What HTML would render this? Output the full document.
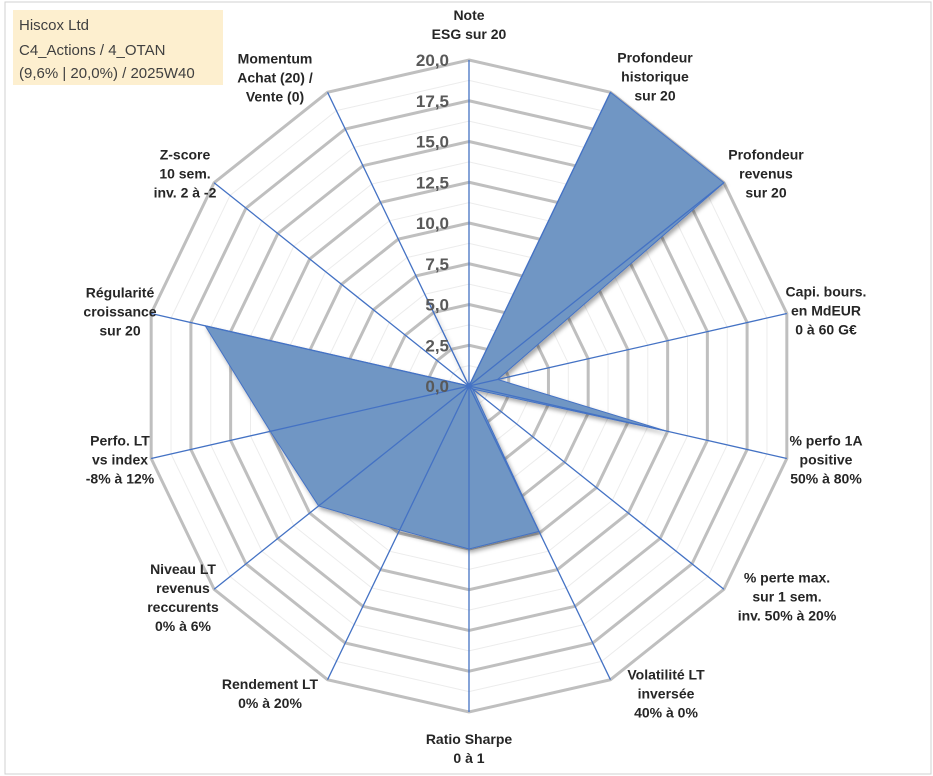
<!DOCTYPE html>
<html><head><meta charset="utf-8"><style>
body{margin:0;background:#fff;}
svg{display:block;font-family:"Liberation Sans",sans-serif;}
.cat{font-weight:bold;font-size:14px;fill:#262626;text-anchor:middle;}
.tick{font-weight:bold;font-size:17px;fill:#595959;text-anchor:end;}
</style></head><body>
<svg id="chart" width="933" height="776">
<rect x="5" y="2" width="926" height="772" fill="#fff" stroke="#d0d0d0"/>
<defs><filter id="sh" x="-10%" y="-10%" width="120%" height="120%"><feDropShadow dx="2" dy="3" stdDeviation="2" flood-color="#000" flood-opacity="0.35"/></filter></defs>
<g id="grid"></g>
<g id="series"></g>
<g id="axes"></g>
<g id="ticks"></g>
<g id="cats"></g>
<g>
<rect x="13" y="10" width="210" height="75" fill="#fdefcf"/>
<text x="19" y="30" font-size="15" fill="#404040">Hiscox Ltd</text>
<text x="19" y="55" font-size="15" fill="#404040">C4_Actions / 4_OTAN</text>
<text x="19" y="78" font-size="15" fill="#404040">(9,6% | 20,0%) / 2025W40</text>
</g>
</svg>
<script>
const categories=[["Note","ESG sur 20"],["Profondeur","historique","sur 20"],["Profondeur","revenus","sur 20"],["Capi. bours.","en MdEUR","0 à 60 G€"],["% perfo 1A","positive","50% à 80%"],["% perte max.","sur 1 sem.","inv. 50% à 20%"],["Volatilité LT","inversée","40% à 0%"],["Ratio Sharpe","0 à 1"],["Rendement LT","0% à 20%"],["Niveau LT","revenus","reccurents","0% à 6%"],["Perfo. LT","vs index","-8% à 12%"],["Régularité","croissance","sur 20"],["Z-score","10 sem.","inv. 2 à -2"],["Momentum","Achat (20) /","Vente (0)"]];
const values=[0,20,20,1.8,12.4,0.3,9.9,10,9.8,11.8,12.5,16.6,0,6];
const tickLabels=["0,0","2,5","5,0","7,5","10,0","12,5","15,0","17,5","20,0"];
const labelPos=[[469,24],[655,76],[766,173],[826,310],[826,459],[787,596],[666,693],[469,748],[270,693],[183,597],[120,459],[120,311],[185,173],[275,77]];
const cx=469,cy=386,R=326,maxV=20,N=categories.length;
const ns="http://www.w3.org/2000/svg";
function ang(i){return i*2*Math.PI/N;}
function pt(i,v){const r=v/maxV*R,a=ang(i);return [cx+r*Math.sin(a),cy-r*Math.cos(a)];}
function mk(t,at,p){const e=document.createElementNS(ns,t);for(const k in at)e.setAttribute(k,at[k]);p.appendChild(e);return e;}
const grid=document.getElementById('grid');
for(let k=1;k<=16;k++){const v=k*1.25;const pts=[];for(let i=0;i<N;i++)pts.push(pt(i,v).join(','));
const major=k%2===0;
const g=mk('polygon',{points:pts.join(' '),fill:'none',stroke:major?'#bfbfbf':'#ececec','stroke-width':major?3:1},grid);

}
const ser=document.getElementById('series');
const pp=values.map((v,i)=>pt(i,v).join(',')).join(' ');
const poly=mk('polygon',{points:pp,fill:'#7096c4',stroke:'#4472c4','stroke-width':1,filter:'url(#sh)'},ser);


const axes=document.getElementById('axes');
for(let i=0;i<N;i++){const p=pt(i,maxV);
const l=mk('line',{x1:cx,y1:cy,x2:p[0],y2:p[1],stroke:'#4472c4','stroke-width':1.3},axes);

}
const ticks=document.getElementById('ticks');
tickLabels.forEach((t,k)=>{const y=cy-k*2.5/maxV*R;
const e=mk('text',{x:449,y:y+6,class:'tick'},ticks);e.textContent=t;

});
const cats=document.getElementById('cats');
categories.forEach((lines,i)=>{const [x,y]=labelPos[i];const h=lines.length*19;
const e=mk('text',{x:x,y:y-h/2+15,class:'cat'},cats);


lines.forEach((s,j)=>{const ts=mk('tspan',{x:x,dy:j?19:0},e);ts.textContent=s;});});
</script>
</body></html>
